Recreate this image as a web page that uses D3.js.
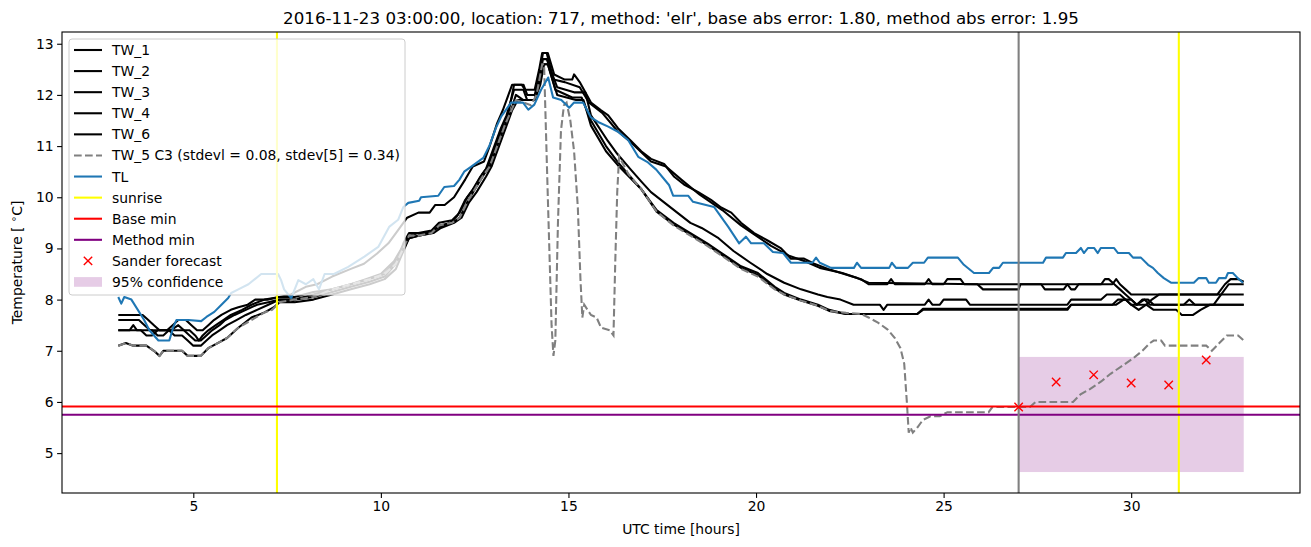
<!DOCTYPE html>
<html><head><meta charset="utf-8">
<script src="https://cdn.jsdelivr.net/npm/d3@7"></script>
<style>
html,body{margin:0;padding:0;background:#fff;}
svg{display:block;font-family:"DejaVu Sans",sans-serif;}
</style></head>
<body><svg id="chart" width="1311" height="547"></svg>
<script>
const titleText = "2016-11-23 03:00:00, location: 717, method: 'elr', base abs error: 1.80, method abs error: 1.95";
const xTicks = [5,10,15,20,25,30];
const yTicks = [5,6,7,8,9,10,11,12,13];

const tw1 = [[3.0,7.7],[3.65,7.7],[3.8,7.6],[3.95,7.5],[4.1,7.4],[4.3,7.4],[4.45,7.5],[4.6,7.6],[4.8,7.6],[4.95,7.5],[5.1,7.4],[5.25,7.4],[5.4,7.5],[5.55,7.6],[5.75,7.7],[6.0,7.8],[6.2,7.85],[6.45,7.9],[6.65,8.0],[7.0,8.0],[7.3,8.05],[7.6,8.1],[8.0,8.25],[8.3,8.3],[8.7,8.45],[9.2,8.6],[9.55,8.7],[9.9,8.9],[10.2,9.1],[10.45,9.35],[10.7,9.6],[11.0,9.7],[11.3,9.7],[11.45,9.85],[11.7,9.85],[11.95,10.0],[12.25,10.35],[12.45,10.6],[12.75,10.7],[12.9,11.0],[13.1,11.45],[13.25,11.7],[13.5,12.2],[13.75,12.2],[13.85,12.1],[14.1,12.1],[14.22,12.5],[14.3,12.82],[14.45,12.82],[14.62,12.4],[14.9,12.3],[15.1,12.3],[15.15,12.4],[15.3,12.25],[15.6,11.85],[15.87,11.7],[16.06,11.6],[16.32,11.35],[16.67,11.1],[16.94,10.9],[17.2,10.75],[17.55,10.65],[17.82,10.4],[18.08,10.25],[18.46,10.1],[18.8,9.95],[19.07,9.8],[19.34,9.7],[19.6,9.5],[19.95,9.3],[20.32,9.15],[20.67,9.0],[20.93,8.8],[21.28,8.8],[21.55,8.7],[21.92,8.6],[22.35,8.5],[22.8,8.4],[23.0,8.3],[23.5,8.3],[23.6,8.4],[23.7,8.3],[24.5,8.3],[24.6,8.4],[24.7,8.3],[25.0,8.3],[25.1,8.4],[25.45,8.4],[25.55,8.3],[29.2,8.3],[29.3,8.4],[29.4,8.4],[29.55,8.3],[29.7,8.2],[29.85,8.1],[30.0,8.0],[30.15,7.9],[30.4,7.9],[30.55,8.0],[30.75,8.1],[32.3,8.1],[32.5,8.3],[32.65,8.4],[32.85,8.4],[33.0,8.35]];
const tw2 = [[3.0,7.6],[3.55,7.6],[3.7,7.5],[3.85,7.4],[4.4,7.4],[4.6,7.5],[4.75,7.4],[4.9,7.3],[5.05,7.2],[5.2,7.2],[5.35,7.3],[5.5,7.4],[5.7,7.5],[5.85,7.6],[6.1,7.7],[6.4,7.8],[6.7,7.9],[7.0,7.95],[7.3,8.0],[7.7,8.0],[8.2,8.1],[8.7,8.2],[9.2,8.3],[9.7,8.4],[10.1,8.5],[10.45,8.8],[10.6,9.1],[10.75,9.3],[11.0,9.3],[11.35,9.35],[11.55,9.5],[11.9,9.55],[12.1,9.7],[12.3,10.0],[12.5,10.2],[12.7,10.45],[12.85,10.6],[13.05,11.0],[13.25,11.4],[13.4,11.65],[13.55,12.2],[13.8,12.2],[13.9,12.0],[14.1,12.0],[14.2,12.3],[14.32,12.82],[14.42,12.82],[14.6,12.3],[14.9,12.25],[15.3,12.15],[15.55,11.85],[15.9,11.65],[16.3,11.3],[16.7,11.05],[17.2,10.7],[17.6,10.6],[18.0,10.35],[18.5,10.05],[19.1,9.75],[19.6,9.45],[20.0,9.25],[20.4,9.05],[20.9,8.85],[21.3,8.75],[21.7,8.62],[22.3,8.52],[22.7,8.42],[23.0,8.33],[25.9,8.3],[26.05,8.2],[27.0,8.2],[27.05,8.3],[27.6,8.3],[27.7,8.2],[28.2,8.2],[28.3,8.3],[28.4,8.2],[28.5,8.2],[28.6,8.3],[29.1,8.3],[29.5,8.3],[29.6,8.4],[29.7,8.3],[29.85,8.2],[30.0,8.1],[33.0,8.1]];
const tw3 = [[3.0,7.4],[3.3,7.4],[3.4,7.5],[3.5,7.4],[3.9,7.4],[4.05,7.3],[4.2,7.3],[4.35,7.4],[4.9,7.4],[5.05,7.3],[5.15,7.2],[5.25,7.3],[5.4,7.4],[5.6,7.5],[5.8,7.6],[6.0,7.7],[6.3,7.8],[6.55,7.9],[6.9,8.0],[7.3,8.05],[7.7,8.05],[8.2,8.15],[8.7,8.2],[9.2,8.3],[9.6,8.4],[10.0,8.5],[10.35,8.75],[10.55,9.0],[10.75,9.25],[11.0,9.3],[11.3,9.3],[11.5,9.4],[11.85,9.5],[12.05,9.65],[12.25,9.95],[12.45,10.15],[12.65,10.4],[12.8,10.55],[13.0,10.95],[13.2,11.35],[13.35,11.6],[13.55,12.1],[13.8,12.1],[13.9,11.9],[14.1,11.9],[14.2,12.2],[14.32,12.7],[14.42,12.7],[14.7,12.15],[15.15,12.05],[15.45,12.05],[15.6,11.6],[16.05,11.1],[16.3,10.85],[16.65,10.55],[16.95,10.3],[17.2,10.1],[17.55,9.9],[17.9,9.7],[18.25,9.5],[18.55,9.4],[19.0,9.2],[19.4,8.95],[19.85,8.72],[20.3,8.5],[20.75,8.33],[21.2,8.2],[21.65,8.1],[21.9,8.05],[22.25,8.0],[22.6,7.9],[23.3,7.9],[23.4,7.8],[23.5,7.9],[24.5,7.9],[24.6,8.0],[24.7,7.9],[24.9,7.9],[25.0,8.0],[25.6,8.0],[25.7,7.9],[28.3,7.9],[28.4,8.0],[29.2,8.0],[29.35,8.1],[29.7,8.1],[29.85,8.0],[30.0,7.9],[30.15,7.9],[30.3,8.0],[30.45,8.0],[30.6,7.9],[32.2,7.9],[32.4,8.1],[32.6,8.3],[33.0,8.3]];
const tw4 = [[3.0,7.4],[3.6,7.4],[3.75,7.3],[3.9,7.3],[4.05,7.4],[4.35,7.4],[4.5,7.3],[4.7,7.3],[4.85,7.2],[5.0,7.1],[5.2,7.1],[5.35,7.2],[5.5,7.3],[5.7,7.4],[5.9,7.5],[6.15,7.6],[6.4,7.7],[6.7,7.8],[7.0,7.9],[7.3,8.0],[7.7,8.0],[8.2,8.05],[8.7,8.15],[9.2,8.25],[9.7,8.35],[10.1,8.45],[10.4,8.7],[10.6,9.0],[10.75,9.2],[11.0,9.25],[11.35,9.3],[11.55,9.45],[11.9,9.5],[12.1,9.6],[12.3,9.9],[12.5,10.15],[12.75,10.45],[12.9,10.6],[13.1,11.0],[13.3,11.4],[13.45,11.65],[13.6,12.0],[13.8,11.9],[14.1,11.9],[14.22,12.2],[14.33,12.6],[14.45,12.6],[14.65,12.1],[15.1,11.95],[15.35,11.95],[15.6,11.5],[16.0,11.0],[16.3,10.7],[16.65,10.4],[16.95,10.15],[17.35,9.75],[17.8,9.5],[18.25,9.3],[18.7,9.1],[19.1,8.9],[19.6,8.65],[20.05,8.52],[20.5,8.25],[20.75,8.13],[21.2,8.0],[21.65,7.9],[21.95,7.8],[22.4,7.72],[24.3,7.72],[24.45,7.8],[28.3,7.8],[28.4,7.9],[29.5,7.9],[29.65,8.0],[29.85,8.0],[30.0,7.9],[30.2,7.8],[30.4,7.9],[30.6,7.8],[31.2,7.8],[31.35,7.7],[31.65,7.7],[31.85,7.8],[32.1,7.9],[33.0,7.9]];
const tw6 = [[3.0,7.1],[3.2,7.15],[3.4,7.1],[3.75,7.1],[3.95,7.0],[4.1,6.9],[4.2,7.0],[4.7,7.0],[4.85,6.9],[5.2,6.9],[5.4,7.05],[5.65,7.15],[5.9,7.25],[6.2,7.45],[6.55,7.65],[6.9,7.75],[7.15,7.85],[7.3,7.95],[7.7,7.95],[8.2,8.0],[8.7,8.1],[9.2,8.2],[9.7,8.3],[10.1,8.4],[10.4,8.6],[10.6,8.95],[10.75,9.2],[11.0,9.25],[11.4,9.3],[11.6,9.4],[11.95,9.5],[12.15,9.6],[12.35,9.9],[12.55,10.1],[12.8,10.4],[12.95,10.6],[13.15,11.0],[13.35,11.4],[13.5,11.7],[13.65,11.9],[14.1,11.9],[14.25,12.2],[14.35,12.6],[14.45,12.6],[14.7,12.0],[15.2,11.9],[15.4,11.9],[15.6,11.4],[16.0,10.9],[16.35,10.6],[16.95,10.15],[17.35,9.72],[17.8,9.47],[18.25,9.27],[18.7,9.07],[19.1,8.87],[19.6,8.62],[20.05,8.48],[20.5,8.22],[20.75,8.1],[21.2,7.98],[21.65,7.88],[21.95,7.78],[22.4,7.72],[24.3,7.72],[24.45,7.82],[28.3,7.82],[28.4,7.9],[29.6,7.9],[29.8,8.0],[30.0,8.0],[30.15,7.9],[30.35,8.0],[30.5,7.9],[31.4,7.9],[31.55,8.0],[31.7,7.9],[33.0,7.9]];
const tw5 = [[3.0,7.1],[3.2,7.15],[3.4,7.1],[3.75,7.1],[3.95,7.0],[4.1,6.9],[4.2,7.0],[4.7,7.0],[4.85,6.9],[5.2,6.9],[5.4,7.05],[5.65,7.15],[5.9,7.25],[6.2,7.45],[6.55,7.6],[6.9,7.75],[7.1,7.8],[7.3,7.95],[7.7,8.0],[8.2,8.05],[8.7,8.2],[9.2,8.3],[9.7,8.4],[10.1,8.5],[10.4,8.7],[10.6,9.0],[10.75,9.25],[11.0,9.25],[11.35,9.3],[11.55,9.45],[11.9,9.5],[12.1,9.6],[12.3,9.9],[12.5,10.15],[12.75,10.45],[12.9,10.6],[13.1,11.0],[13.3,11.4],[13.45,11.65],[13.6,11.9],[13.8,11.85],[14.0,11.8],[14.15,12.0],[14.3,12.6],[14.35,12.6],[14.45,10.0],[14.55,7.5],[14.6,6.9],[14.65,7.2],[14.72,9.5],[14.8,11.3],[14.88,11.8],[14.95,11.85],[15.05,11.5],[15.15,10.9],[15.25,9.8],[15.32,8.4],[15.37,7.65],[15.42,7.9],[15.6,7.7],[15.75,7.65],[15.87,7.45],[16.1,7.4],[16.2,7.3],[16.25,8.8],[16.3,10.1],[16.35,10.8],[16.6,10.45],[16.95,10.15],[17.35,9.72],[17.8,9.45],[18.25,9.25],[18.7,9.05],[19.1,8.85],[19.6,8.6],[20.05,8.45],[20.5,8.2],[20.75,8.1],[21.2,7.98],[21.65,7.88],[21.95,7.78],[22.4,7.74],[22.8,7.72],[23.0,7.65],[23.25,7.55],[23.5,7.42],[23.7,7.25],[23.85,7.05],[23.95,6.75],[24.02,6.0],[24.07,5.4],[24.12,5.5],[24.18,5.4],[24.3,5.5],[24.45,5.65],[24.65,5.72],[24.9,5.72],[25.1,5.8],[26.2,5.8],[26.3,5.9],[27.3,5.9],[27.45,6.0],[28.45,6.0],[28.65,6.15],[28.9,6.25],[29.2,6.4],[29.45,6.55],[29.75,6.7],[30.05,6.85],[30.3,7.0],[30.5,7.15],[30.6,7.2],[30.8,7.2],[30.9,7.1],[32.0,7.1],[32.15,7.0],[32.35,7.15],[32.55,7.3],[32.85,7.3],[33.0,7.2]];
const tl = [[3.0,8.05],[3.08,7.92],[3.16,8.05],[3.35,8.0],[3.69,7.6],[3.83,7.4],[4.07,7.2],[4.36,7.2],[4.47,7.47],[4.55,7.6],[4.87,7.6],[5.21,7.58],[5.35,7.66],[5.56,7.76],[5.75,7.9],[5.93,8.03],[6.01,8.13],[6.2,8.2],[6.47,8.3],[6.81,8.5],[7.26,8.5],[7.34,8.38],[7.42,8.2],[7.61,8.03],[7.8,8.38],[8.0,8.3],[8.2,8.4],[8.35,8.2],[8.5,8.5],[8.75,8.5],[9.13,8.64],[9.56,8.84],[9.93,9.03],[10.22,9.42],[10.46,9.56],[10.6,9.81],[10.73,9.89],[11.02,9.93],[11.07,10.0],[11.53,10.03],[11.69,10.2],[11.95,10.22],[12.09,10.34],[12.22,10.5],[12.41,10.6],[12.73,10.77],[12.89,11.0],[13.07,11.36],[13.21,11.58],[13.47,11.85],[13.79,11.85],[13.93,11.71],[14.09,11.81],[14.27,12.1],[14.46,12.34],[14.59,11.95],[14.81,11.9],[15.02,11.75],[15.15,11.85],[15.39,11.85],[15.6,11.56],[15.82,11.46],[16.06,11.38],[16.32,11.28],[16.59,11.12],[16.86,10.79],[17.12,10.68],[17.34,10.54],[17.68,10.24],[17.79,10.03],[18.19,10.03],[18.32,9.91],[18.88,9.81],[19.26,9.42],[19.55,9.1],[19.73,9.23],[19.87,9.1],[20.21,9.1],[20.45,8.93],[20.72,8.91],[20.93,8.72],[21.28,8.72],[21.5,8.72],[21.6,8.82],[21.7,8.72],[22.0,8.62],[22.61,8.62],[22.69,8.72],[22.8,8.62],[23.55,8.62],[23.62,8.72],[23.73,8.62],[24.05,8.62],[24.18,8.72],[24.48,8.72],[24.58,8.82],[25.38,8.82],[25.54,8.68],[25.81,8.52],[26.21,8.52],[26.32,8.62],[26.48,8.62],[26.58,8.72],[27.65,8.72],[27.73,8.82],[28.18,8.82],[28.26,8.91],[28.53,8.91],[28.66,9.01],[28.74,8.91],[28.85,9.01],[29.01,9.01],[29.11,8.91],[29.19,9.01],[29.54,9.01],[29.65,8.91],[29.94,8.91],[30.05,8.82],[30.26,8.82],[30.45,8.68],[30.58,8.62],[30.71,8.52],[30.87,8.42],[31.06,8.33],[31.67,8.33],[31.8,8.42],[32.0,8.42],[32.07,8.33],[32.26,8.33],[32.34,8.42],[32.52,8.42],[32.58,8.52],[32.71,8.52],[32.84,8.42],[32.98,8.33]];

const sunriseHours = [7.23, 31.27];
const forecastTime = 27.0;
const baseMin = 5.91;
const methodMin = 5.75;
const sanderHours = [27,28,29,30,31,32];
const sanderValues = [5.9,6.39,6.53,6.37,6.33,6.82];
const confStart = 27, confEnd = 33, confLow = 4.63, confHigh = 6.88;

const blackSeries = [
  {name:"TW_1", data:tw1},{name:"TW_2", data:tw2},{name:"TW_3", data:tw3},
  {name:"TW_4", data:tw4},{name:"TW_6", data:tw6}
];

const W = 1311, H = 547;
const m = {l:62, r:11, t:32, b:54};
const LW = 2.08;
const DASH = "7.7,3.3";
const svg = d3.select("#chart");

const allX = [].concat(...[tw1,tw2,tw3,tw4,tw6,tw5,tl].map(s=>s.map(d=>d[0])), [confStart, confEnd]);
const allY = [].concat(...[tw1,tw2,tw3,tw4,tw6,tw5,tl].map(s=>s.map(d=>d[1])), [confLow, confHigh], sanderValues);
const [x0,x1] = d3.extent(allX), [y0,y1] = d3.extent(allY);
const px = (x1-x0)*0.05, py = (y1-y0)*0.05;
const x = d3.scaleLinear().domain([x0-px, x1+px]).range([m.l, W-m.r]);
const y = d3.scaleLinear().domain([y0-py, y1+py]).range([H-m.b, m.t]);

svg.append("defs").append("clipPath").attr("id","clip").append("rect")
  .attr("x",m.l).attr("y",m.t).attr("width",W-m.l-m.r).attr("height",H-m.t-m.b);
const g = svg.append("g").attr("clip-path","url(#clip)");

// confidence band
g.append("rect").attr("x",x(confStart)).attr("width",x(confEnd)-x(confStart))
  .attr("y",y(confHigh)).attr("height",y(confLow)-y(confHigh))
  .attr("fill","purple").attr("fill-opacity",0.2);

const line = d3.line().x(d=>x(d[0])).y(d=>y(d[1]));
blackSeries.forEach(s=>{
  g.append("path").datum(s.data).attr("d",line).attr("fill","none")
   .attr("stroke","#000").attr("stroke-width",LW).attr("stroke-linejoin","round");
});
g.append("path").datum(tw5).attr("d",line).attr("fill","none")
  .attr("stroke","#808080").attr("stroke-width",LW).attr("stroke-dasharray",DASH);
g.append("path").datum(tl).attr("d",line).attr("fill","none")
  .attr("stroke","#1f77b4").attr("stroke-width",LW).attr("stroke-linejoin","round");

sunriseHours.forEach(h=>{
  g.append("line").attr("x1",x(h)).attr("x2",x(h)).attr("y1",m.t).attr("y2",H-m.b)
   .attr("stroke","#ffff00").attr("stroke-width",LW);
});
g.append("line").attr("x1",m.l).attr("x2",W-m.r).attr("y1",y(baseMin)).attr("y2",y(baseMin))
  .attr("stroke","#ff0000").attr("stroke-width",LW);
g.append("line").attr("x1",m.l).attr("x2",W-m.r).attr("y1",y(methodMin)).attr("y2",y(methodMin))
  .attr("stroke","#800080").attr("stroke-width",LW);
g.append("line").attr("x1",x(forecastTime)).attr("x2",x(forecastTime)).attr("y1",m.t).attr("y2",H-m.b)
  .attr("stroke","#808080").attr("stroke-width",LW);

function xMark(sel, cx, cy, r){
  sel.append("path").attr("d",`M${cx-r},${cy-r}L${cx+r},${cy+r}M${cx-r},${cy+r}L${cx+r},${cy-r}`)
    .attr("stroke","#ff0000").attr("stroke-width",1.4).attr("fill","none");
}
sanderHours.forEach((h,i)=>xMark(g, x(h), y(sanderValues[i]), 4.2));

// axes
const xAxis = svg.append("g").attr("transform",`translate(0,${H-m.b})`)
  .call(d3.axisBottom(x).tickValues(xTicks).tickSize(4.9).tickPadding(3.5).tickFormat(d3.format("d")));
const yAxis = svg.append("g").attr("transform",`translate(${m.l},0)`)
  .call(d3.axisLeft(y).tickValues(yTicks).tickSize(4.9).tickPadding(3.5).tickFormat(d3.format("d")));
[xAxis,yAxis].forEach(a=>{
  a.select(".domain").remove();
  a.selectAll(".tick line").attr("stroke","#000").attr("stroke-width",1.1);
  a.selectAll(".tick text").attr("font-family","DejaVu Sans").attr("font-size",13.9).attr("fill","#000");
});
svg.append("rect").attr("x",m.l).attr("y",m.t).attr("width",W-m.l-m.r).attr("height",H-m.t-m.b)
  .attr("fill","none").attr("stroke","#000").attr("stroke-width",1.1);

// labels
svg.append("text").attr("x",(m.l+W-m.r)/2).attr("y",24).attr("text-anchor","middle")
  .attr("font-size",16.7).attr("fill","#000").text(titleText);
svg.append("text").attr("x",(m.l+W-m.r)/2).attr("y",534).attr("text-anchor","middle")
  .attr("font-size",13.9).attr("fill","#000").text("UTC time [hours]");
const yl = svg.append("text").attr("transform",`translate(22,${(m.t+H-m.b)/2}) rotate(-90)`)
  .attr("text-anchor","middle").attr("font-size",13.9).attr("fill","#000");
yl.append("tspan").text("Temperature [ ");
yl.append("tspan").attr("dy",-5).attr("font-size",10).text("∘");
yl.append("tspan").attr("dy",5).text("C]");

// legend
const lg = svg.append("g");
lg.append("rect").attr("x",69).attr("y",39).attr("width",336).attr("height",256).attr("rx",3)
  .attr("fill","#fff").attr("fill-opacity",0.8).attr("stroke","#cccccc").attr("stroke-width",1);
const legendItems = [
  ...blackSeries.map(s=>({label:s.name, type:"line", color:"#000"})),
  {label:"TW_5 C3 (stdevl = 0.08, stdev[5] = 0.34)", type:"dash", color:"#808080"},
  {label:"TL", type:"line", color:"#1f77b4"},
  {label:"sunrise", type:"line", color:"#ffff00"},
  {label:"Base min", type:"line", color:"#ff0000"},
  {label:"Method min", type:"line", color:"#800080"},
  {label:"Sander forecast", type:"x", color:"#ff0000"},
  {label:"95% confidence", type:"patch", color:"purple"}
];
legendItems.forEach((it,i)=>{
  const cy = 50 + i*21.09;
  if(it.type==="line"||it.type==="dash"){
    const l = lg.append("line").attr("x1",74).attr("x2",102).attr("y1",cy).attr("y2",cy)
      .attr("stroke",it.color).attr("stroke-width",LW);
    if(it.type==="dash") l.attr("stroke-dasharray",DASH);
  } else if(it.type==="x"){
    xMark(lg, 88, cy, 4.2);
  } else {
    lg.append("rect").attr("x",74).attr("y",cy-4.9).attr("width",28).attr("height",9.7)
      .attr("fill",it.color).attr("fill-opacity",0.2);
  }
  lg.append("text").attr("x",112).attr("y",cy+5).attr("font-size",13.9).attr("fill","#000").text(it.label);
});
</script></body></html>
